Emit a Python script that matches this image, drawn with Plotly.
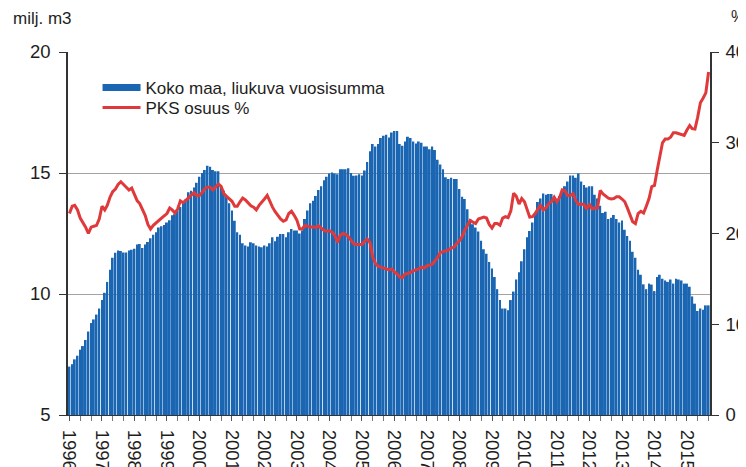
import pandas as pd
import plotly.graph_objects as go

months = pd.date_range("1996-01-01", periods=237, freq="MS")

koko_maa = [
    7.0, 7.1, 7.3, 7.45, 7.7, 7.85, 8.1, 8.45, 8.8, 8.95, 9.15, 9.4,
    9.75, 10.05, 10.5, 11.0, 11.5, 11.7, 11.8, 11.78, 11.72, 11.72, 11.8, 11.83,
    11.87, 12.05, 12.07, 11.9, 12.05, 12.15, 12.3, 12.45, 12.55, 12.75, 12.8, 12.85,
    12.95, 13.05, 13.25, 13.3, 13.45, 13.6, 13.75, 13.9, 14.2, 14.27, 14.4, 14.6,
    14.85, 15.0, 15.12, 15.3, 15.26, 15.12, 15.07, 15.07, 14.45, 14.28, 14.07, 13.75,
    13.45, 13.03, 12.55, 12.45, 12.1, 12.0, 11.96, 12.14, 12.1, 12.0, 11.96, 11.93,
    12.0, 11.96, 12.1, 12.35, 12.18, 12.37, 12.48, 12.48, 12.35, 12.55, 12.69, 12.62,
    12.62, 12.5, 12.62, 13.1, 13.45, 13.75, 13.85, 14.05, 14.3, 14.45, 14.7, 14.85,
    14.98, 15.02, 14.98, 14.95, 15.16, 15.16, 15.16, 15.2, 15.0, 14.89, 14.9, 14.95,
    14.9, 15.1, 15.45, 15.9, 16.2, 16.1, 16.2, 16.45, 16.54, 16.58, 16.47, 16.67,
    16.74, 16.74, 16.2, 16.13, 16.3, 16.5, 16.45, 16.3, 16.22, 16.3, 16.25, 16.1,
    16.1, 15.98, 16.1, 15.95, 15.55, 15.35, 15.16, 14.82, 14.75, 14.8, 14.75, 14.75,
    14.34, 14.02, 13.93, 13.5, 13.1, 12.88, 12.75, 12.58, 12.2, 11.85, 11.66, 11.32,
    11.05, 10.7, 10.2, 9.75, 9.4, 9.4, 9.33, 9.75, 10.1, 10.6, 10.9, 11.35,
    11.85, 12.35, 12.6, 12.95, 13.35, 13.8, 13.95, 14.15, 14.1, 14.13, 14.13, 14.0,
    13.85, 14.05, 14.25, 14.45, 14.65, 14.9, 14.9, 14.8, 14.98, 14.65, 14.5, 14.4,
    14.45, 14.45, 14.1, 13.95, 13.65, 13.35, 13.4, 13.1, 13.15, 13.26, 13.1, 12.95,
    13.04, 12.65, 12.4, 12.2, 11.75, 11.5, 11.0, 10.8, 10.4, 10.2, 10.43, 10.39,
    10.12, 10.7, 10.8, 10.63, 10.56, 10.5, 10.6, 10.43, 10.63, 10.6, 10.56, 10.43,
    10.43, 10.3, 9.9, 9.6, 9.3, 9.4, 9.35, 9.53, 9.53,
]

pks_osuus = [
    22.2, 23.0, 23.1, 22.6, 21.7, 21.25, 20.7, 20.0, 20.7, 20.8, 20.9, 21.6,
    23.0, 22.6, 23.1, 24.0, 24.6, 24.9, 25.4, 25.7, 25.4, 25.1, 24.8, 25.0,
    24.2, 23.6, 23.3, 22.7, 22.0, 21.0, 20.5, 20.9, 21.2, 21.4, 21.7, 21.95,
    22.2, 22.8, 22.6, 22.25, 22.7, 23.6, 23.4, 23.65, 23.95, 24.2, 24.5, 24.2,
    24.2, 24.5, 24.95, 25.1, 25.1, 24.8, 25.1, 25.45, 25.2, 24.4, 24.1, 23.85,
    23.55, 23.0, 23.0, 23.5, 23.9, 23.7, 23.35, 23.05, 22.9, 22.6, 23.1, 23.4,
    23.8, 24.2, 23.5, 22.9, 22.4, 22.0, 21.6, 21.35, 21.5, 22.2, 22.45, 22.0,
    21.45, 20.5, 20.5, 20.9, 20.8, 20.7, 20.75, 20.65, 20.85, 20.6, 20.35, 20.25,
    20.3, 20.15, 19.8, 19.0, 19.8, 20.0, 19.9, 19.65, 19.2, 18.85, 18.8, 18.8,
    18.8, 19.15, 19.4, 19.0, 17.4, 16.7, 16.4, 16.3, 16.2, 16.1, 16.0, 16.1,
    15.75, 15.55, 15.2, 15.15, 15.55, 15.6, 15.7, 15.9, 16.0, 16.1, 16.3, 16.2,
    16.45, 16.55, 16.6, 17.0, 17.35, 17.9, 18.0, 18.15, 18.2, 18.4, 18.5, 18.9,
    19.2, 19.65, 20.4, 20.9, 21.45, 21.25, 21.1, 21.6, 21.7, 21.8, 21.7, 21.0,
    20.6, 21.1, 21.1, 20.9, 21.7, 21.85, 21.75, 22.5, 24.45, 24.1, 23.25, 23.85,
    23.5, 22.6, 21.8, 21.85, 22.2, 22.7, 23.1, 22.6, 22.85, 23.3, 23.5, 24.0,
    23.5, 24.0, 24.8, 24.7, 24.2, 24.2, 24.4, 23.6, 23.2, 23.25, 23.2, 22.7,
    23.25, 22.7, 22.8, 22.8, 24.75, 24.35, 24.1, 23.9, 23.8, 23.85, 24.05, 24.05,
    23.8, 23.5, 22.85, 22.1, 21.3, 21.1, 22.2, 22.45, 22.25, 23.0, 23.85, 25.15,
    25.3, 27.0, 28.5, 30.0, 30.4, 30.4, 30.6, 31.1, 31.1, 31.0, 30.9, 30.8,
    31.4, 31.9, 31.55, 31.5, 32.8, 34.4, 34.9, 35.5, 37.8,
]

name_bar = "Koko maa, liukuva vuosisumma"
name_line = "PKS osuus %"
left_title = "milj. m3"
right_title = "%"

BLUE = "#1b66b2"
RED = "#e0393b"
FONT = "Liberation Sans, Arial, sans-serif"
TXT = "#1e1e1e"

fig = go.Figure()
fig.add_trace(go.Bar(x=months, y=koko_maa, marker=dict(color=BLUE, line=dict(width=0)),
                     showlegend=False, name=name_bar))
# legend entry with a thick line symbol like the reference
fig.add_trace(go.Scatter(x=[None], y=[None], mode="lines", name=name_bar,
                         line=dict(color=BLUE, width=7), legend="legend"))
fig.add_trace(go.Scatter(x=months, y=pks_osuus, mode="lines", name=name_line,
                         line=dict(color=RED, width=3), yaxis="y2", legend="legend2"))

leg_common = dict(xanchor="left", yanchor="middle", bgcolor="rgba(0,0,0,0)",
                  font=dict(size=17, color=TXT), itemwidth=38)

# the page body adds an 8px offset; margins compensate for it
fig.update_layout(
    width=746, height=467,
    margin=dict(l=60, r=44, t=44, b=60, autoexpand=False),
    paper_bgcolor="white", plot_bgcolor="white",
    font=dict(family=FONT, size=16, color=TXT),
    bargap=0.22,
    showlegend=True,
    legend=dict(x=0.046, y=0.901, **leg_common),
    legend2=dict(x=0.046, y=0.846, **leg_common),
    xaxis=dict(
        type="date", automargin=False, ticklabeloverflow="allow",
        range=[months[0] - pd.Timedelta(days=16), months[-1] + pd.Timedelta(days=16)],
        tickformat="%Y", dtick="M12", tick0="1996-01-01",
        tickangle=90, ticks="outside", ticklen=5, tickcolor="#555",
        ticklabelstandoff=5,
        tickfont=dict(size=18.5, color=TXT),
        minor=dict(dtick="M4", tick0="1996-01-01", ticks="outside", ticklen=5, tickcolor="#777"),
        showline=True, linecolor="#333", linewidth=1,
        showgrid=False, zeroline=False,
    ),
    yaxis=dict(
        range=[5, 20], tickvals=[5, 10, 15, 20], automargin=False, ticklabeloverflow="allow",
        ticks="outside", ticklen=7, tickcolor="#333",
        ticklabelstandoff=5,
        tickfont=dict(size=18.5, color=TXT),
        showline=True, linecolor="#333", linewidth=1.5,
        showgrid=True, gridcolor="#a3a3a3", gridwidth=1,
        zeroline=False,
    ),
    yaxis2=dict(
        range=[0, 40], tickvals=[0, 10, 20, 30, 40], automargin=False, ticklabeloverflow="allow",
        overlaying="y", side="right",
        ticks="outside", ticklen=7, tickcolor="#333",
        ticklabelstandoff=3,
        tickfont=dict(size=18.5, color=TXT),
        showline=True, linecolor="#333", linewidth=1.5,
        showgrid=False, zeroline=False,
    ),
    annotations=[
        dict(text=left_title, xref="paper", yref="paper", x=0, xshift=-57, y=1.0, yshift=34,
             xanchor="left", yanchor="middle", showarrow=False,
             font=dict(size=17, color=TXT)),
        dict(text=right_title, xref="paper", yref="paper", x=1.0, xshift=19, y=1.0, yshift=36,
             xanchor="left", yanchor="middle", showarrow=False,
             font=dict(size=16, color=TXT)),
    ],
)

fig.write_html("out.html")
